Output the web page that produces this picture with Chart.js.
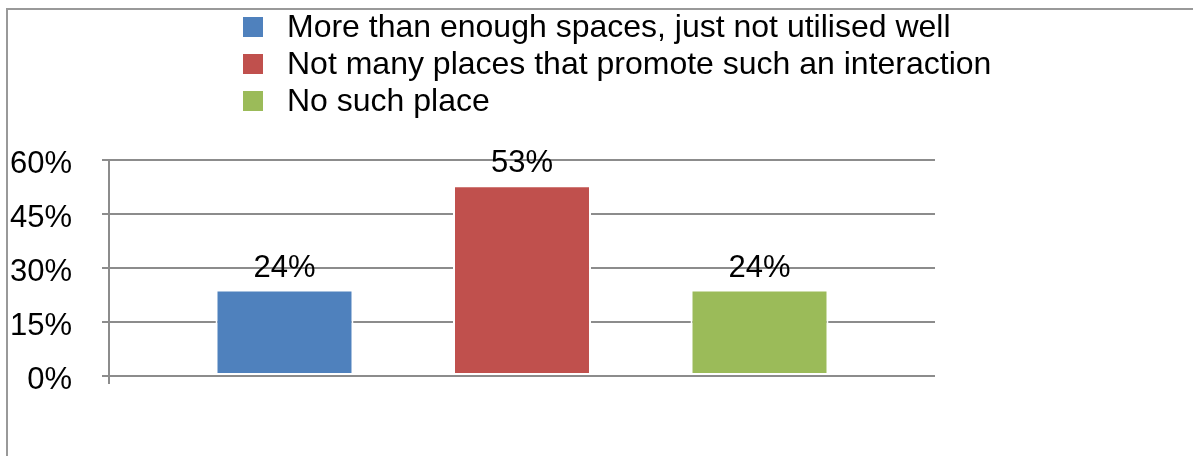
<!DOCTYPE html>
<html>
<head>
<meta charset="utf-8">
<script src="https://cdn.jsdelivr.net/npm/chart.js@4/dist/chart.umd.min.js"></script>
<style>
  html, body { margin: 0; padding: 0; background: #fff; overflow: hidden; }
  #wrap { position: relative; width: 1193px; height: 456px; overflow: hidden; }
  #frame { position: absolute; left: 6px; top: 8px; width: 3000px; height: 3000px;
           border-top: 2px solid #999; border-left: 2px solid #999; }
  #c { position: absolute; left: 0; top: 0; }
  #legend { position: absolute; left: 243px; top: 8px; color: #000;
            font: 32px "Liberation Sans", Arial, sans-serif; }
  .row { display: flex; align-items: center; height: 37px; white-space: nowrap; }
  .box { width: 20px; height: 20px; margin-right: 24px; flex: none; }
</style>
</head>
<body>
<div id="wrap">
  <div id="frame"></div>
  <canvas id="c" width="1193" height="456"></canvas>
  <div id="legend"></div>
</div>
<script>
// Survey answers: one category, one bar per answer
const categories = [''];
const seriesNames = [
  'More than enough spaces, just not utilised well',
  'Not many places that promote such an interaction',
  'No such place'
];
const moreThanEnough = [24];
const notMany = [53];
const noSuchPlace = [24];
const seriesColors = ['#4f81bd', '#c0504d', '#9bbb59'];
const yTickValues = [0, 15, 30, 45, 60];

const FONT = { family: '"Liberation Sans", Arial, sans-serif', size: 31 };
const GRID = '#8c8c8c';

// Percentage label above each bar, taken from the bar's own value
const valueLabels = {
  id: 'valueLabels',
  afterDatasetsDraw(chart) {
    const ctx = chart.ctx;
    ctx.save();
    ctx.font = `${FONT.size}px ${FONT.family}`;
    ctx.fillStyle = '#000';
    ctx.textAlign = 'center';
    ctx.textBaseline = 'alphabetic';
    chart.data.datasets.forEach((ds, di) => {
      chart.getDatasetMeta(di).data.forEach((bar, i) => {
        ctx.fillText(ds.data[i] + '%', bar.x, bar.y - 13);
      });
    });
    ctx.restore();
  }
};

const seriesData = [moreThanEnough, notMany, noSuchPlace];

const chart = new Chart(document.getElementById('c'), {
  type: 'bar',
  data: {
    labels: categories,
    datasets: seriesNames.map((name, i) => ({
      label: name,
      data: seriesData[i],
      backgroundColor: seriesColors[i],
      borderColor: '#ffffff',
      borderWidth: 2,
      borderSkipped: false,
      categoryPercentage: 0.8626,
      barPercentage: 0.581
    }))
  },
  options: {
    responsive: false,
    animation: false,
    devicePixelRatio: 1,
    layout: { padding: { top: 160, right: 258, left: 0, bottom: 0 } },
    plugins: {
      legend: { display: false },
      tooltip: { enabled: false }
    },
    scales: {
      x: {
        offset: true,
        border: { display: false },
        grid: {
          offset: true,
          drawOnChartArea: false,
          drawTicks: true,
          tickLength: 8,
          lineWidth: 2,
          color: (c) => c.index === 0 ? GRID : 'rgba(0,0,0,0)'
        },
        ticks: { display: false },
        afterFit: (s) => { s.height = 80; }
      },
      y: {
        min: 0,
        max: 60,
        afterBuildTicks: (s) => { s.ticks = yTickValues.map(v => ({ value: v })); },
        border: { display: true, color: GRID, width: 2 },
        grid: { color: GRID, lineWidth: 2, tickLength: 7, drawTicks: true },
        ticks: {
          font: FONT,
          color: '#000',
          padding: 30,
          labelOffset: 4,
          callback: (v) => v + '%'
        },
        afterFit: (s) => { s.width = 109; }
      }
    }
  },
  plugins: [valueLabels]
});

// Legend built from the chart's own legend items, stacked in one column
const legendEl = document.getElementById('legend');
Chart.defaults.plugins.legend.labels.generateLabels(chart).forEach(item => {
  const row = document.createElement('div');
  row.className = 'row';
  const box = document.createElement('span');
  box.className = 'box';
  box.style.background = item.fillStyle;
  const txt = document.createElement('span');
  txt.textContent = item.text;
  row.appendChild(box);
  row.appendChild(txt);
  legendEl.appendChild(row);
});
</script>
</body>
</html>
